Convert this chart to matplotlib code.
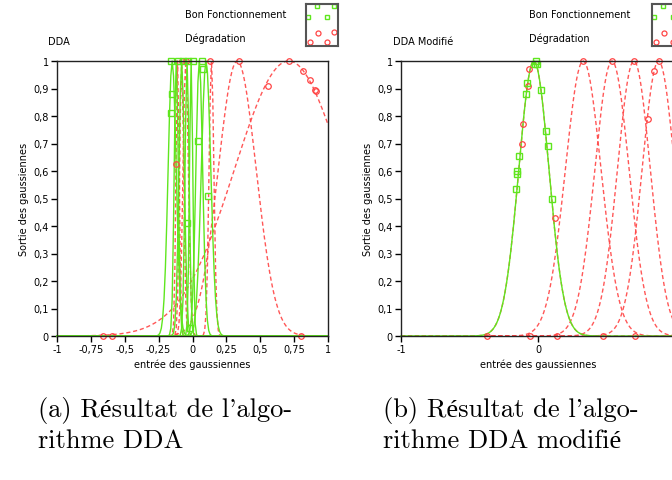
import matplotlib.pyplot as plt
import numpy as np

# ---- data ----
# left panel (DDA): gaussian centres / widths
green_c_a = [-0.15, -0.12, -0.08, -0.04, -0.01, 0.05, 0.10]
green_s_a = [0.03, 0.015, 0.02, 0.015, 0.012, 0.025, 0.035]
red_c_a = [-0.11, -0.08, -0.05, 0.14, 0.33, 0.71]
red_s_a = [0.012, 0.015, 0.02, 0.018, 0.14, 0.40]
# marker points (x, y)
green_mx_a = [-0.156, -0.104, -0.067, -0.03, 0.0, 0.067, -0.148, -0.156, 0.081, 0.037, 0.111, -0.037, -0.02]
green_my_a = [1.0, 1.0, 1.0, 1.0, 1.0, 1.0, 0.88, 0.81, 0.97, 0.71, 0.51, 0.41, 0.03]
red_mx_a = [0.126, 0.341, 0.711, 0.556, 0.815, 0.867, 0.904, 0.911, -0.119, -0.075, -0.05, -0.659, -0.593, 0.8]
red_my_a = [1.0, 1.0, 1.0, 0.91, 0.965, 0.93, 0.895, 0.89, 0.625, 1.0, 1.0, 0.0, 0.0, 0.0]

# right panel (DDA modifie)
green_c_b = [-0.03]
green_s_b = [0.11]
red_c_b = [-0.03, 0.33, 0.54, 0.70, 0.88]
red_s_b = [0.11, 0.13, 0.125, 0.12, 0.12]
green_mx_b = [-0.022, -0.007, -0.015, -0.080, -0.088, -0.139, -0.153, -0.153, -0.161, 0.022, 0.058, 0.073, 0.102]
green_my_b = [0.99, 0.99, 1.0, 0.92, 0.88, 0.655, 0.6, 0.59, 0.535, 0.895, 0.745, 0.69, 0.5]
red_mx_b = [-0.065, -0.072, -0.11, -0.12, 0.124, 0.33, 0.54, 0.70, 0.88, 0.847, 0.80, -0.37, -0.058, 0.139, 0.474, 0.708]
red_my_b = [0.97, 0.91, 0.77, 0.70, 0.43, 1.0, 1.0, 1.0, 1.0, 0.964, 0.79, 0.0, 0.0, 0.0, 0.0, 0.0]

yticks = np.arange(0, 1.01, 0.1)
xticks_a = [-1, -0.75, -0.5, -0.25, 0, 0.25, 0.5, 0.75, 1]
xticks_b = [-1, 0, 1]

GREEN = '#5fe61e'
RED = '#ff4545'
W, H = 672, 481


def lab(v):
    return ('%g' % v).replace('.', ',')


def panel(rect, gc, gs, rc, rs, gmx, gmy, rmx, rmy, xt):
    ax = fig.add_axes(rect)
    x = np.linspace(-1, 1, 201)
    for c, s in zip(rc, rs):
        ax.plot(x, np.exp(-(x - c) ** 2 / (2 * s * s)), color=RED, lw=1,
                ls=(0, (3, 2)), alpha=0.9, clip_on=False)
    for c, s in zip(gc, gs):
        ax.plot(x, np.exp(-(x - c) ** 2 / (2 * s * s)), color=GREEN, lw=1, clip_on=False)
    ax.plot(rmx, rmy, 'o', ms=4, mfc='none', mec=RED, mew=0.9, ls='none', clip_on=False)
    ax.plot(gmx, gmy, 's', ms=3.8, mfc='none', mec=GREEN, mew=1, ls='none', clip_on=False)
    ax.set_xlim(-1, 1)
    ax.set_ylim(0, 1)
    ax.set_xticks(xt)
    ax.set_xticklabels([lab(v) for v in xt])
    ax.set_yticks(yticks)
    ax.set_yticklabels([lab(round(v, 1)) for v in yticks])
    ax.tick_params(direction='out', length=4, width=1, labelsize=7, pad=2)
    for sp in ax.spines.values():
        sp.set_linewidth(1)
        sp.set_color('#222222')
    ax.set_xlabel('entrée des gaussiennes', fontsize=7, labelpad=3)
    ax.set_ylabel('Sortie des gaussiennes', fontsize=7, labelpad=3)
    return ax


def swatch(x0):
    b = fig.add_axes([x0 / W, 1 - 47 / H, 32 / W, 42 / H])
    b.set_xlim(0, 1)
    b.set_ylim(0, 1)
    b.set_xticks([])
    b.set_yticks([])
    for sp in b.spines.values():
        sp.set_color('#555555')
        sp.set_linewidth(1.5)
    b.plot([0.34, 0.06, 0.66, 0.86], [0.95, 0.69, 0.69, 0.95], 's', ms=3.2,
           mfc='none', mec=GREEN, mew=1)
    b.plot([0.375, 0.875, 0.125, 0.656], [0.31, 0.33, 0.095, 0.095], 'o', ms=3.6,
           mfc='none', mec=RED, mew=0.9)


fig = plt.figure(figsize=(6.72, 4.81), dpi=100)

panel([57 / W, 1 - 337 / H, 271 / W, 275 / H], green_c_a, green_s_a, red_c_a, red_s_a,
      green_mx_a, green_my_a, red_mx_a, red_my_a, xticks_a)
panel([401 / W, 1 - 337 / H, 274 / W, 275 / H], green_c_b, green_s_b, red_c_b, red_s_b,
      green_mx_b, green_my_b, red_mx_b, red_my_b, xticks_b)

swatch(306)
swatch(652)

for x0, title in [(48, 'DDA'), (393, 'DDA Modifié')]:
    fig.text(x0 / W, 1 - 42 / H, title, fontsize=7, va='center')
for x0 in [185, 529]:
    fig.text(x0 / W, 1 - 15 / H, 'Bon Fonctionnement', fontsize=7, va='center')
    fig.text(x0 / W, 1 - 39 / H, 'Dégradation', fontsize=7, va='center')

serif = ['cmr10', 'Liberation Serif']
for x0, l1, l2 in [(38, "(a) Résultat de l'algo-", 'rithme DDA'),
                   (383, "(b) Résultat de l'algo-", 'rithme DDA modifié')]:
    fig.text(x0 / W, 1 - 410 / H, l1, fontsize=19, family=serif, va='center')
    fig.text(x0 / W, 1 - 441 / H, l2, fontsize=19, family=serif, va='center')

fig.savefig('out.png', dpi=100)
